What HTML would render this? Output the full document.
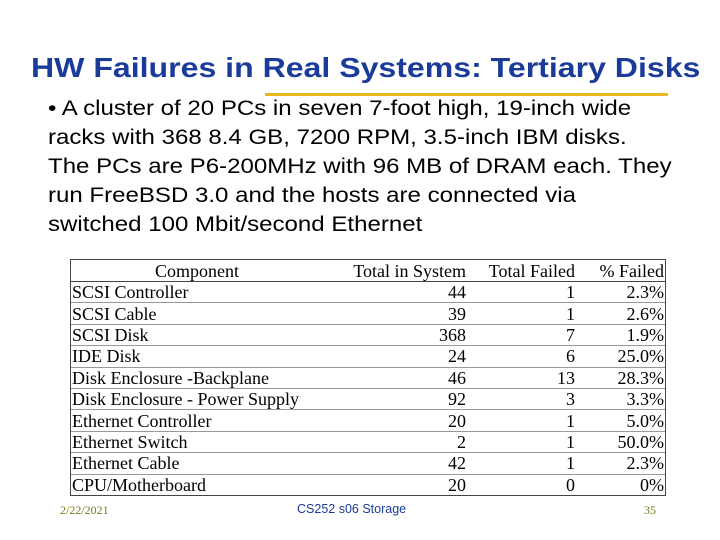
<!DOCTYPE html>
<html><head><meta charset="utf-8"><style>
body{margin:0;width:720px;height:540px;background:#fff;position:relative;overflow:hidden;font-family:"Liberation Sans",sans-serif}
.a{position:absolute;white-space:nowrap}
#title{left:31px;top:52px;font-size:28px;font-weight:bold;color:#1a3b9a;transform:scaleX(1.145);transform-origin:0 0}
#rule{left:265px;top:93px;width:403px;height:3px;background:#e8b820}
#body{left:48px;top:94px;font-size:21px;line-height:29px;color:#000;transform:scaleX(1.145);transform-origin:0 0}
#tbl{left:70px;top:259px;width:596px;height:237px;border:1px solid #444;box-sizing:border-box;overflow:hidden}
table{border-collapse:collapse;width:100%;table-layout:fixed;font-family:"Liberation Serif",serif;font-size:18px;color:#000}
td,th{padding:0 1px;height:20.4px;line-height:20px;font-weight:normal;overflow:hidden}
th{height:21px}
tr.r td{border-top:1px solid #999}
th{border-bottom:1px solid #444}
.n{text-align:right}
.f{font-family:"Liberation Serif",serif;font-size:12px;color:#7a7a20;top:503px}
</style></head><body>
<div class="a" id="title">HW Failures in Real Systems: Tertiary Disks</div>
<div class="a" id="rule"></div>
<div class="a" id="body">• A cluster of 20 PCs in seven 7-foot high, 19-inch wide<br>racks with 368 8.4 GB, 7200 RPM, 3.5-inch IBM disks.<br>The PCs are P6-200MHz with 96 MB of DRAM each. They<br>run FreeBSD 3.0 and the hosts are connected via<br>switched 100 Mbit/second Ethernet</div>
<div class="a" id="tbl">
<table>
<colgroup><col style="width:252px"><col style="width:144px"><col style="width:109px"><col></colgroup>
<tr><th>Component</th><th style="text-align:right">Total in System</th><th style="text-align:right">Total Failed</th><th style="text-align:right">% Failed</th></tr>
<tr class="r"><td>SCSI Controller</td><td class="n">44</td><td class="n">1</td><td class="n">2.3%</td></tr>
<tr class="r"><td>SCSI Cable</td><td class="n">39</td><td class="n">1</td><td class="n">2.6%</td></tr>
<tr class="r"><td>SCSI Disk</td><td class="n">368</td><td class="n">7</td><td class="n">1.9%</td></tr>
<tr class="r"><td>IDE Disk</td><td class="n">24</td><td class="n">6</td><td class="n">25.0%</td></tr>
<tr class="r"><td>Disk Enclosure -Backplane</td><td class="n">46</td><td class="n">13</td><td class="n">28.3%</td></tr>
<tr class="r"><td>Disk Enclosure - Power Supply</td><td class="n">92</td><td class="n">3</td><td class="n">3.3%</td></tr>
<tr class="r"><td>Ethernet Controller</td><td class="n">20</td><td class="n">1</td><td class="n">5.0%</td></tr>
<tr class="r"><td>Ethernet Switch</td><td class="n">2</td><td class="n">1</td><td class="n">50.0%</td></tr>
<tr class="r"><td>Ethernet Cable</td><td class="n">42</td><td class="n">1</td><td class="n">2.3%</td></tr>
<tr class="r"><td>CPU/Motherboard</td><td class="n">20</td><td class="n">0</td><td class="n">0%</td></tr>
</table></div>
<div class="a f" style="left:60px">2/22/2021</div>
<div class="a" style="left:297px;top:502px;font-size:12.5px;color:#1a3b9a">CS252 s06 Storage</div>
<div class="a f" style="left:644px">35</div>
</body></html>
